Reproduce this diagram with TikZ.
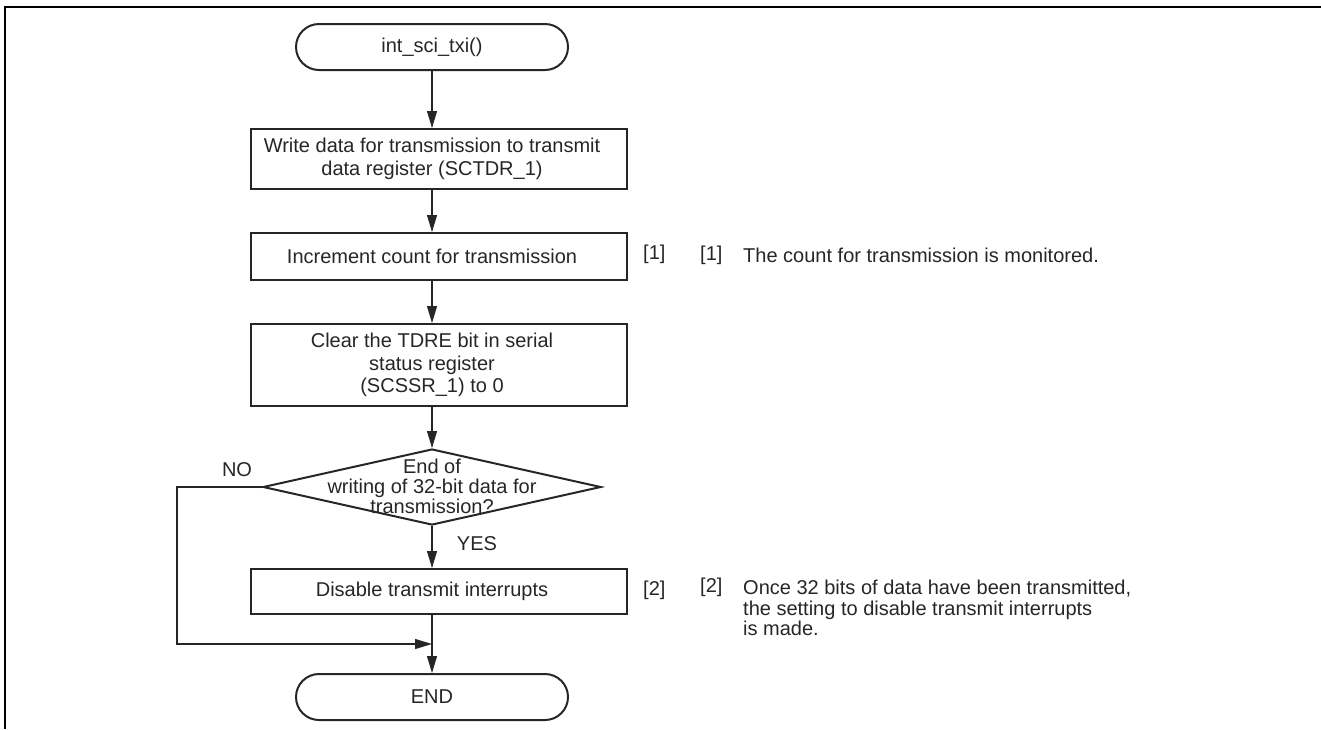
\documentclass[tikz,border=0pt]{standalone}
\usepackage{fontspec}
\setmainfont{Liberation Sans}
\usetikzlibrary{arrows.meta,shapes.geometric}
\newcommand{\lsh}{\hspace*{-14pt}}
\begin{document}
\begin{tikzpicture}[x=1pt,y=-1pt,
  txt/.style={font=\fontsize{20}{22.5}\selectfont, text=black!85},
  proc/.style={draw=black!85, line width=2pt, minimum width=376pt, align=center, txt, inner sep=0pt},
  term/.style={draw=black!85, line width=2pt, minimum width=272pt, minimum height=46pt, rounded corners=23pt, txt, inner sep=0pt},
  dia/.style={draw=black!85, line width=2pt, diamond, minimum width=338pt, minimum height=76pt, inner sep=0pt},
  conn/.style={draw=black!85, line width=1.1pt},
  arr/.style={conn, -{Triangle[length=17pt,width=10pt]}},
  lbl/.style={txt, inner sep=0pt}
]
\useasboundingbox (0,0) rectangle (1321,729);
% frame
\draw[line width=2.4pt, black] (5,729) -- (5,7) -- (1321,7);

% nodes
\node[term] (start) at (432,47) {int\_sci\_txi()};
\node[proc, minimum height=60pt] (b1) at (439,159) {\lsh Write data for transmission to transmit\\\lsh data register (SCTDR\_1)};
\node[proc, minimum height=47pt] (b2) at (439,256.5) {\lsh Increment count for transmission};
\node[proc, minimum height=82pt] (b3) at (439,365) {\lsh Clear the TDRE bit in serial\\\lsh status register\\\lsh (SCSSR\_1) to 0};
\node[dia] (d) at (432,487) {};
\node[lbl, align=center, font=\fontsize{20}{20}\selectfont] (dt) at (432,486) {End of\\writing of 32-bit data for\\transmission?};
\node[proc, minimum height=45pt] (b4) at (439,591.5) {\lsh Disable transmit interrupts};
\node[term] (end) at (432,697) {END};

% connectors
\draw[arr] (start.south) -- (start.south |- b1.north);
\draw[arr] (b1.south -| start) -- (start |- b2.north);
\draw[arr] (b2.south -| start) -- (start |- b3.north);
\draw[arr] (b3.south -| start) -- (d.north);
\draw[arr] (d.south) -- (start |- b4.north);
\draw[arr] (b4.south -| start) -- (end.north);
\coordinate (join) at (432,644);
\coordinate (loopx) at (177,487);
\draw[arr] (d.west) -- (loopx) |- (join);

% labels
\node[lbl] (no) at (237,470) {NO};
\node[lbl] (yes) at (477,544) {YES};
\node[lbl, anchor=west] (r1) at (643,254) {[1]};
\node[lbl, anchor=west] (r2) at (643,590) {[2]};

% notes
\node[lbl, anchor=west] (n1) at (700,255) {[1]};
\node[lbl, anchor=west] (n1t) at (743,255) {The count for transmission is monitored.};
\node[lbl, anchor=west] (n2) at (700,587) {[2]};
\node[lbl, anchor=north west, align=left, font=\fontsize{20}{20.5}\selectfont] (n2t) at (743,580) {Once 32 bits of data have been transmitted,\\the setting to disable transmit interrupts\\is made.};
\end{tikzpicture}
\end{document}
